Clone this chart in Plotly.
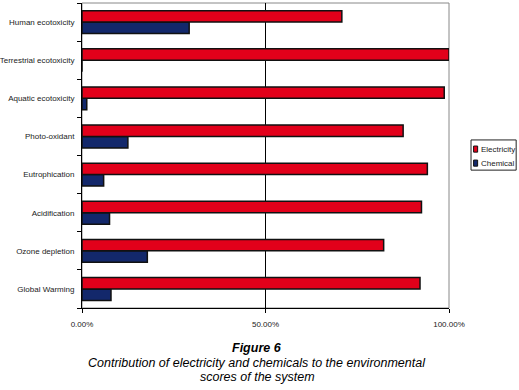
import plotly.graph_objects as go

categories = ["Global Warming", "Ozone depletion", "Acidification", "Eutrophication",
              "Photo-oxidant", "Aquatic ecotoxicity", "Terrestrial ecotoxicity", "Human ecotoxicity"]
electricity = [92.1, 82.2, 92.5, 94.1, 87.5, 98.7, 100.0, 70.8]
chemical = [7.9, 17.8, 7.5, 5.9, 12.5, 1.3, 0.0, 29.2]
tick_vals = [0, 50, 100]
tick_text = ["0.00%", "50.00%", "100.00%"]
series_names = ["Electricity", "Chemical"]
series_colors = ["#E2001A", "#13286B"]
caption_lines = ["<b><i>Figure 6</i></b>",
                 "<i>Contribution of electricity and chemicals to the environmental</i>",
                 "<i>scores of the system</i>"]

FONT = "Liberation Sans, Arial, sans-serif"

fig = go.Figure()
fig.add_trace(go.Bar(y=categories, x=chemical, orientation="h", name=series_names[1],
                     marker=dict(color=series_colors[1], line=dict(color="#111111", width=1.5))))
fig.add_trace(go.Bar(y=categories, x=electricity, orientation="h", name=series_names[0],
                     marker=dict(color=series_colors[0], line=dict(color="#111111", width=1.5))))

fig.update_layout(
    width=519, height=390,
    margin=dict(l=82, r=70, t=3, b=82, autoexpand=False),
    paper_bgcolor="white", plot_bgcolor="white",
    barmode="group", bargap=0.4, bargroupgap=0,
    font=dict(family=FONT, size=8, color="#222222"),
    showlegend=False,
)
fig.update_xaxes(range=[0, 100], tickvals=tick_vals, ticktext=tick_text,
                 showgrid=True, gridcolor="#000000", gridwidth=1,
                 showline=True, linecolor="#000000", linewidth=1,
                 ticks="outside", ticklen=4, tickcolor="#000000",
                 ticklabelstandoff=4, zeroline=False, automargin=False)
fig.update_yaxes(type="category", categoryorder="array", categoryarray=categories,
                 showline=True, linecolor="#000000", linewidth=1,
                 ticks="outside", ticklen=4, tickcolor="#000000", tickson="boundaries",
                 showgrid=False, ticklabelstandoff=5, automargin=False)

# plot-area border (gray) on top and right
fig.add_shape(type="rect", xref="paper", yref="paper", x0=0, x1=1, y0=0, y1=1,
              line=dict(color="#888888", width=1), layer="below")

# custom compact legend
fig.add_shape(type="rect", xref="paper", yref="paper", x0=1.060, x1=1.183, y0=0.452, y1=0.551,
              line=dict(color="#222222", width=1), fillcolor="white")
leg_y = [0.521, 0.475]
for name, color, yy in zip(series_names, series_colors, leg_y):
    fig.add_shape(type="rect", xref="paper", yref="paper",
                  x0=1.067, x1=1.078, y0=yy - 0.010, y1=yy + 0.010,
                  line=dict(color="#111111", width=1), fillcolor=color)
    fig.add_annotation(text=name, xref="paper", yref="paper", x=1.081, y=yy,
                       xanchor="left", yanchor="middle", showarrow=False,
                       font=dict(family=FONT, size=8, color="#222222"))

caption_shift = [-40, -55, -69]
caption_size = [12.5, 12.5, 12.5]
for txt, ys, sz in zip(caption_lines, caption_shift, caption_size):
    fig.add_annotation(text=txt, xref="paper", yref="paper",
                       x=0.477, y=0, yshift=ys, xanchor="center", yanchor="middle",
                       showarrow=False, font=dict(family=FONT, size=sz, color="#000000"))

fig.write_html("out.html", config={"displayModeBar": False},
               post_script="document.body.style.margin='0';document.body.style.padding='0';document.body.style.overflow='hidden';")
